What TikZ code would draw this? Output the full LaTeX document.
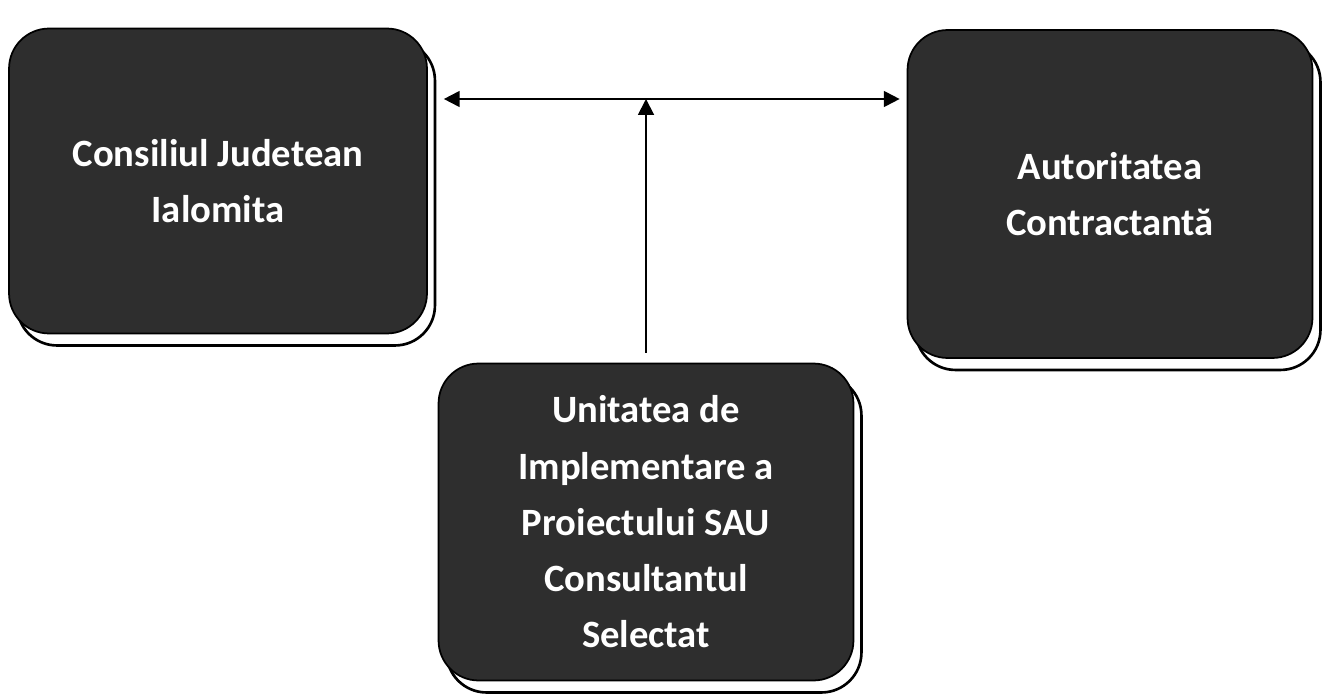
\documentclass[tikz,border=0pt]{standalone}
\usepackage{fontspec}
\setmainfont{Carlito}
\usepackage{tikz}
\usetikzlibrary{arrows.meta, shadows}
\tikzset{
  block/.style={draw=black, line width=1pt, fill=black!82, text=white,
    rounded corners=0.8cm, align=center, inner sep=0pt,
    font=\fontsize{22}{32}\selectfont\bfseries,
    drop shadow={shadow xshift=0.16cm, shadow yshift=-0.24cm, fill=white,
      draw=black, line width=1.5pt, opacity=1}},
  arrow/.style={line width=1.1pt, -{Triangle[length=9pt, width=9pt]}},
  twoway/.style={line width=1.1pt, {Triangle[length=9pt, width=9pt]}-{Triangle[length=9pt, width=9pt]}}
}

\begin{document}
\begin{tikzpicture}[x=0.02cm, y=-0.02cm]
		\useasboundingbox (0,0) rectangle (1325,696);
		\node[block, minimum width=8.36cm, minimum height=6.1cm] (consiliu) at (218,181)
		  {Consiliul Judetean\\Ialomita};
		\node[block, minimum width=8.1cm, minimum height=6.56cm] (autoritate) at (1110,194)
		  {Autoritatea\\Contractantă};
		\node[block, minimum width=8.3cm, minimum height=6.34cm] (uip) at (646,522)
		  {Unitatea de\\Implementare a\\Proiectului SAU\\Consultantul\\Selectat};
		\coordinate (junc) at (646,99);
		\draw[twoway, shorten <=0.32cm, shorten >=0.14cm] (consiliu.east |- junc) -- (autoritate.west |- junc);
		\draw[arrow, shorten <=0.2cm] (uip.north) -- (junc);
	\end{tikzpicture}
\end{document}
